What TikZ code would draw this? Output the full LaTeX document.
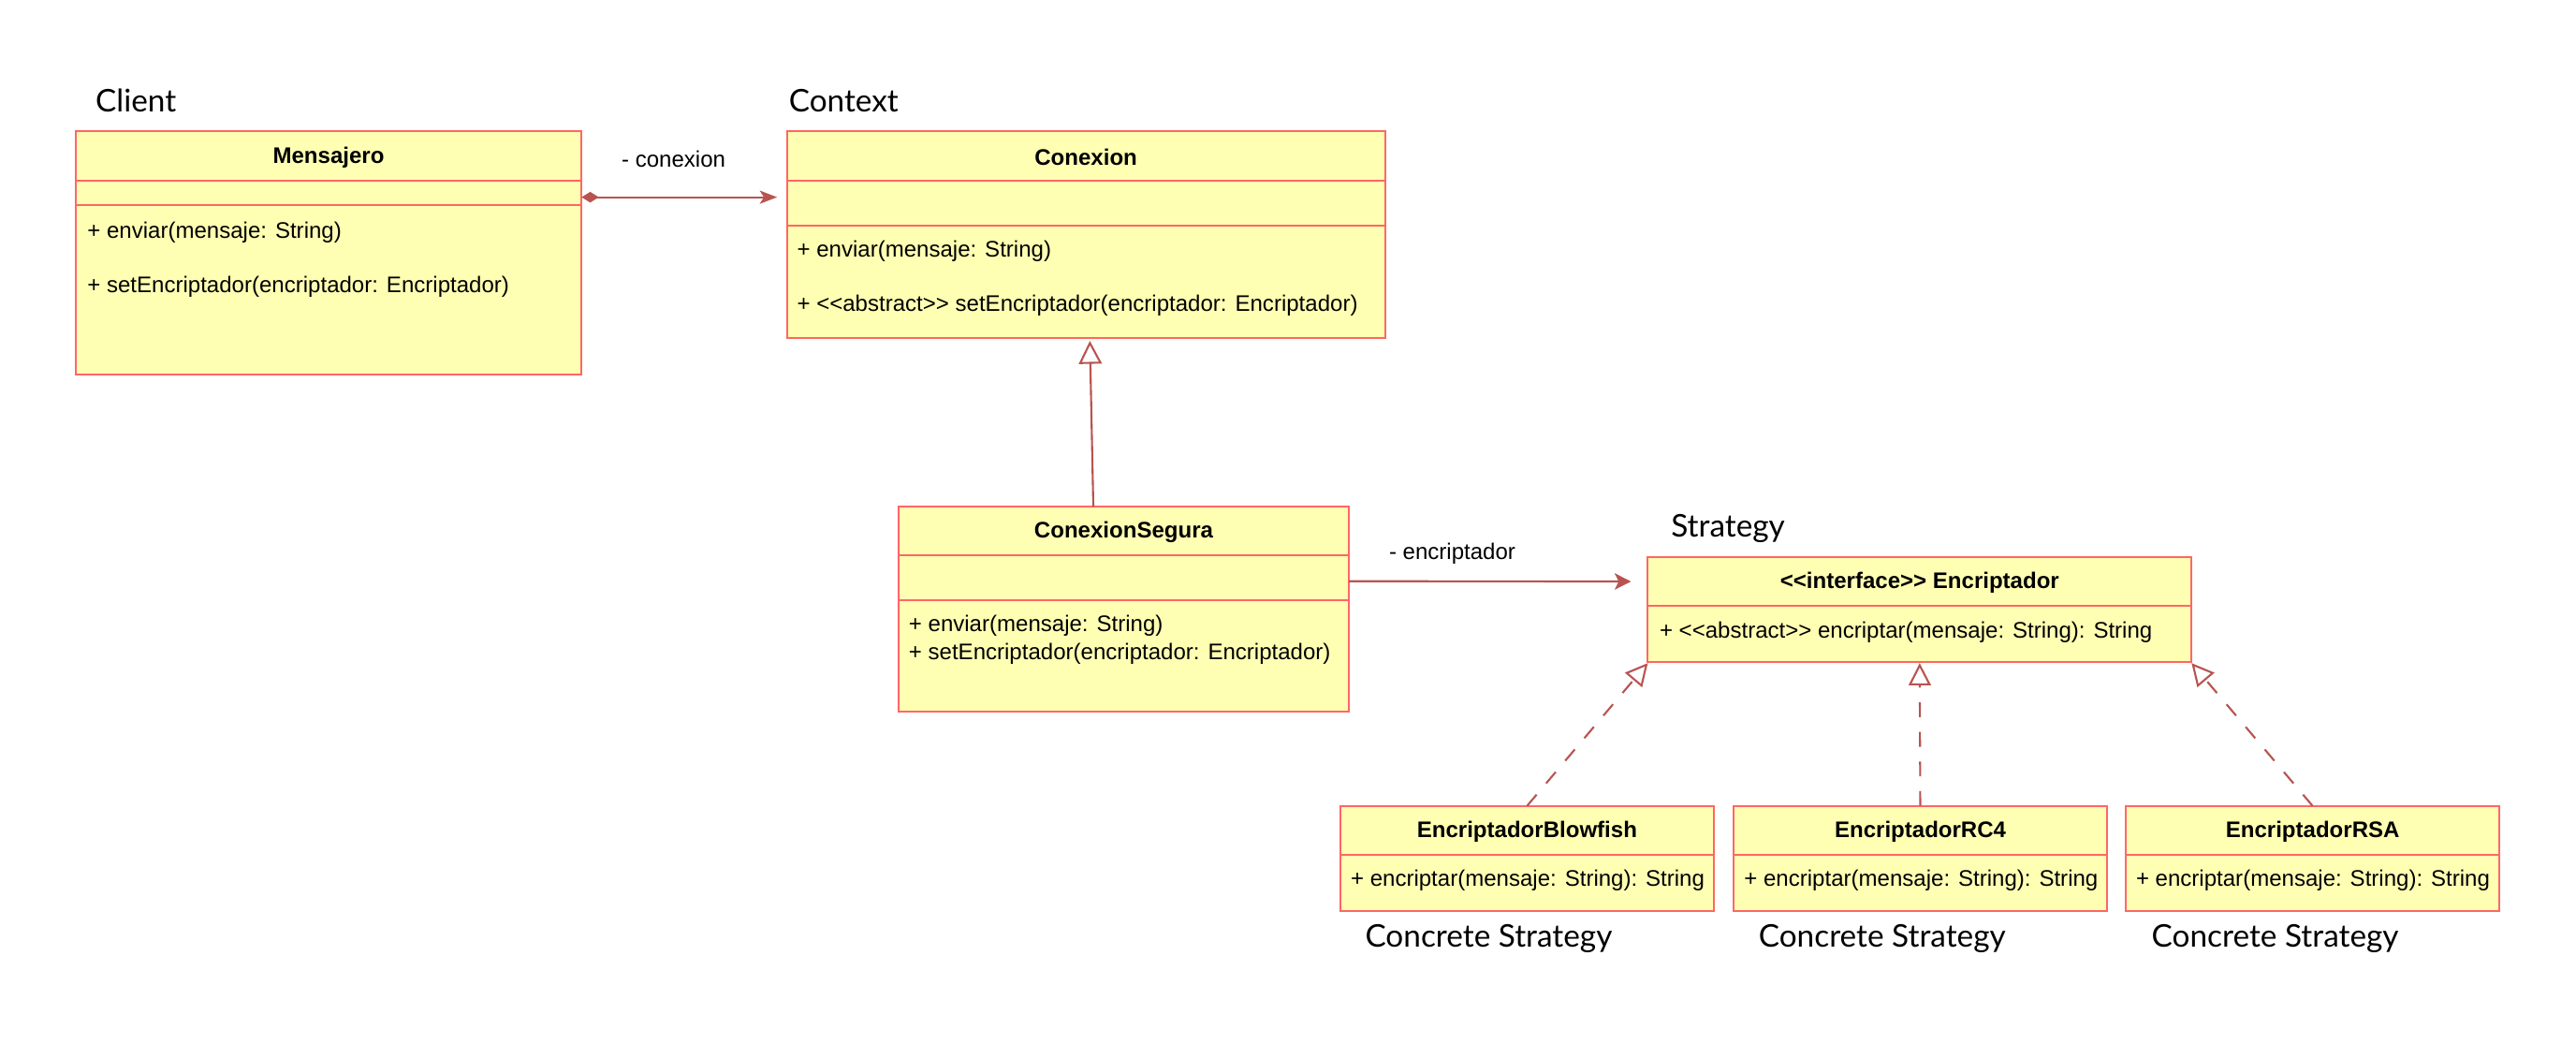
\documentclass[tikz,border=0pt]{standalone}
\usepackage{fontspec}
\setmainfont{Liberation Sans}
\newfontfamily\handfont{Lato}
\usetikzlibrary{arrows.meta}
\definecolor{boxred}{HTML}{FF6666}
\definecolor{linered}{HTML}{B85450}
\definecolor{boxfill}{HTML}{FFFFB3}
\newcommand\memsize{\fontsize{13.7}{16}\selectfont}
\newcommand\handsize{\handfont\fontsize{19}{23}\selectfont}
\tikzset{
  cls/.style={draw=boxred, fill=boxfill, line width=1.1pt, inner sep=0pt, outer sep=0pt, anchor=north west},
  div/.style={draw=boxred, line width=1.1pt},
  ttl/.style={font=\memsize\bfseries, inner sep=0pt, anchor=center},
  mem/.style={font=\memsize, inner sep=0pt, anchor=west},
  lbl/.style={font=\memsize, inner sep=0pt, anchor=center},
  hand/.style={font=\handsize, inner sep=0pt, anchor=base west},
  conn/.style={draw=linered, line width=1.2pt},
  real/.style={conn, dash pattern=on 9pt off 9pt, -{Triangle[open, length=13.5pt, width=13.5pt, fill=white]}},
  gen/.style={conn, -{Triangle[open, length=14pt, width=14pt, fill=white]}},
}
\begin{document}
\begin{tikzpicture}[x=1pt,y=-1pt]
\useasboundingbox[fill=white] (0,0) rectangle (1568,635);

% Mensajero
\node[cls, minimum width=308pt, minimum height=148pt] (mens) at (46,80) {};
\draw[div] (46,110) -- (354,110);
\draw[div] (46,125) -- (354,125);
\node[ttl] (mensT) at (200,95.7) {Mensajero};
\node[mem] (mensM1) at (53,141.5) {+ enviar(mensaje: String)};
\node[mem] (mensM2) at (53,174.7) {+ setEncriptador(encriptador: Encriptador)};
\node[hand] (lclient) at (58,68) {Client};

% Conexion
\node[cls, minimum width=364pt, minimum height=125.5pt] (conx) at (479,80) {};
\draw[div] (479,109.8) -- (843,109.8);
\draw[div] (479,137.3) -- (843,137.3);
\node[ttl] (conxT) at (661,95.7) {Conexion};
\node[mem] (conxM1) at (485,153) {+ enviar(mensaje: String)};
\node[mem] (conxM2) at (485,186) {+ <{}<abstract>{}> setEncriptador(encriptador: Encriptador)};
\node[hand] (lcontext) at (480,68) {Context};

% ConexionSegura
\node[cls, minimum width=274pt, minimum height=124.7pt] (cseg) at (547,308.3) {};
\draw[div] (547,337.7) -- (821,337.7);
\draw[div] (547,365) -- (821,365);
\node[ttl] (csegT) at (684,323.8) {ConexionSegura};
\node[mem] (csegM1) at (553,380.8) {+ enviar(mensaje: String)};
\node[mem] (csegM2) at (553,397.9) {+ setEncriptador(encriptador: Encriptador)};

% Encriptador
\node[cls, minimum width=331pt, minimum height=63.7pt] (encr) at (1003,339) {};
\draw[div] (1003,368.5) -- (1334,368.5);
\node[ttl] (encrT) at (1168.5,354.8) {<{}<interface>{}> Encriptador};
\node[mem] (encrM) at (1010,384.6) {+ <{}<abstract>{}> encriptar(mensaje: String): String};
\node[hand] (lstrat) at (1017,326.7) {Strategy};

% Concrete strategies
\node[cls, minimum width=227.6pt, minimum height=63.8pt] (blow) at (815.7,490.4) {};
\draw[div] (815.7,520) -- (1043.3,520);
\node[ttl] (blowT) at (929.5,506) {EncriptadorBlowfish};
\node[mem] (blowM) at (822,535.6) {+ encriptar(mensaje: String): String};
\node[hand] (lc1) at (830.8,576.5) {Concrete Strategy};

\node[cls, minimum width=227.3pt, minimum height=63.8pt] (rcf) at (1055.2,490.4) {};
\draw[div] (1055.2,520) -- (1282.5,520);
\node[ttl] (rcfT) at (1168.9,506) {EncriptadorRC4};
\node[mem] (rcfM) at (1061.5,535.6) {+ encriptar(mensaje: String): String};
\node[hand] (lc2) at (1070.3,576.5) {Concrete Strategy};

\node[cls, minimum width=227.7pt, minimum height=63.8pt] (rsa) at (1293.8,490.4) {};
\draw[div] (1293.8,520) -- (1521.5,520);
\node[ttl] (rsaT) at (1407.7,506) {EncriptadorRSA};
\node[mem] (rsaM) at (1300,535.6) {+ encriptar(mensaje: String): String};
\node[hand] (lc3) at (1309.5,576.5) {Concrete Strategy};

% Connectors
\draw[conn, {Diamond[length=10.5pt, width=6.5pt]}-{Stealth[length=10.5pt, width=8pt, inset=2.5pt]}]
  ([yshift=-40pt]mens.north east) -- ([xshift=-6pt, yshift=-40pt]conx.north west);
\node[lbl] (lconexion) at (410,97) {- conexion};

\draw[gen] ([xshift=-18.5pt]cseg.north) -- ([xshift=2.4pt, yshift=-1.9pt]conx.south);

\draw[conn, -{Stealth[length=10pt, width=10pt, inset=2.5pt]}]
  ([yshift=17pt]cseg.east) -- ([xshift=-10.2pt, yshift=17pt]encr.west);
\node[lbl] (lencr) at (884,337) {- encriptador};

\draw[real] (blow.north) -- ([yshift=-0.8pt]encr.south west);
\draw[real] (rcf.north) -- ([yshift=-0.8pt]encr.south);
\draw[real] (rsa.north) -- ([yshift=-0.8pt]encr.south east);
\end{tikzpicture}
\end{document}
